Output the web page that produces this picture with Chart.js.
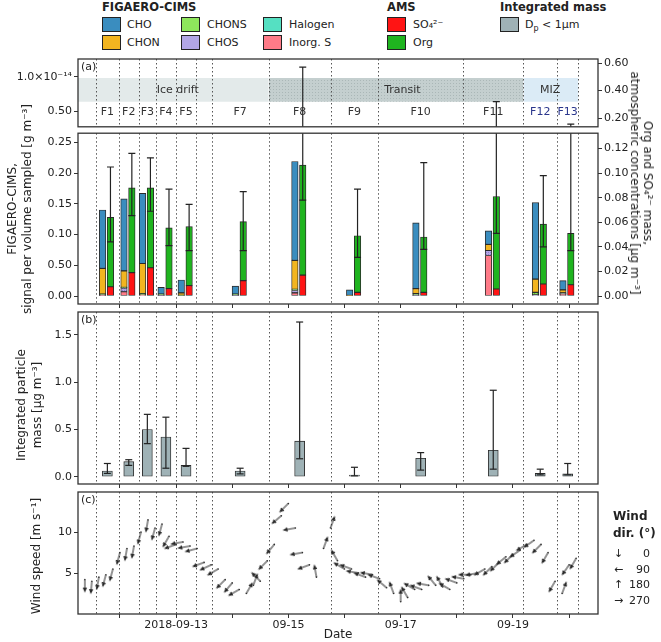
<!DOCTYPE html>
<html>
<head>
<meta charset="utf-8">
<script src="https://cdn.jsdelivr.net/npm/chart.js@4.4.1/dist/chart.umd.min.js"></script>
<style>
  body { margin: 0; width: 661px; height: 642px; position: relative; background: #fff;
         font-family: "DejaVu Sans", sans-serif; color: #222; overflow: hidden; }
  canvas { position: absolute; left: 0; }
  .t { position: absolute; white-space: nowrap; font-size: 11px; line-height: 15px; }
  .hd { font-weight: bold; font-size: 11.5px; }
  .sw { position: absolute; width: 19px; height: 15px; border: 1px solid #222; box-sizing: border-box; }
  .vt { position: absolute; font-size: 12px; line-height: 16px; text-align: center; white-space: nowrap;
        transform: translate(-50%, -50%) rotate(-90deg); }
  .vr { transform: translate(-50%, -50%) rotate(90deg); line-height: 13px; }
</style>
</head>
<body>
<canvas id="a1" width="661" height="82" style="top:50px"></canvas>
<canvas id="a2" width="661" height="182" style="top:128px"></canvas>
<canvas id="pb" width="661" height="184" style="top:306px"></canvas>
<canvas id="pc" width="661" height="156" style="top:486px"></canvas>

<!-- legend -->
<div class="t hd" style="left:102px;top:0px">FIGAERO-CIMS</div>
<div class="sw" style="left:102px;top:17px;background:#3a8dbf"></div><div class="t" style="left:127px;top:17px">CHO</div>
<div class="sw" style="left:102px;top:35px;background:#f2b520"></div><div class="t" style="left:127px;top:35px">CHON</div>
<div class="sw" style="left:181px;top:17px;background:#8ee65c"></div><div class="t" style="left:207px;top:17px">CHONS</div>
<div class="sw" style="left:181px;top:35px;background:#b2a6e6"></div><div class="t" style="left:207px;top:35px">CHOS</div>
<div class="sw" style="left:263px;top:17px;background:#55e0c2"></div><div class="t" style="left:289px;top:17px">Halogen</div>
<div class="sw" style="left:263px;top:35px;background:#ff7b88"></div><div class="t" style="left:289px;top:35px">Inorg. S</div>
<div class="t hd" style="left:387px;top:0px">AMS</div>
<div class="sw" style="left:387px;top:17px;background:#ff1414"></div><div class="t" style="left:413px;top:17px">SO₄²⁻</div>
<div class="sw" style="left:387px;top:35px;background:#1fb41f"></div><div class="t" style="left:413px;top:35px">Org</div>
<div class="t hd" style="left:500px;top:0px">Integrated mass</div>
<div class="sw" style="left:500px;top:17px;background:#9fb2b6"></div><div class="t" style="left:525px;top:17px">D<sub style="font-size:8px">p</sub> &lt; 1μm</div>

<!-- axis titles -->
<div class="vt" style="left:20px;top:209px;line-height:15px">FIGAERO-CIMS,<br>signal per volume sampled [g m⁻³]</div>
<div class="vt vr" style="left:641px;top:183px">Org and SO₄²⁻ mass,<br>atmospheric concentrations [μg m⁻³]</div>
<div class="vt" style="left:29px;top:405px">Integrated particle<br>mass [μg m⁻³]</div>
<div class="vt" style="left:36px;top:556px">Wind speed [m s⁻¹]</div>

<!-- wind legend -->
<div class="t hd" style="left:613px;top:509px;font-size:12px">Wind</div>
<div class="t hd" style="left:613px;top:526px;font-size:12px">dir. (°)</div>
<div class="t" style="left:614px;top:546px">↓</div><div class="t" style="left:630px;top:546px;width:20px;text-align:right">0</div>
<div class="t" style="left:614px;top:562px">←</div><div class="t" style="left:630px;top:562px;width:20px;text-align:right">90</div>
<div class="t" style="left:614px;top:577px">↑</div><div class="t" style="left:626px;top:577px;width:24px;text-align:right">180</div>
<div class="t" style="left:614px;top:593px">→</div><div class="t" style="left:626px;top:593px;width:24px;text-align:right">270</div>

<script>
"use strict";

// ---- time axis (day of September 2018) ----
const DAY_MIN = 11.253;
const DAY_MAX = 20.514;
const tickDays = [12, 13, 14, 15, 16, 17, 18, 19, 20];
const tickLabels = ["", "2018-09-13", "", "09-15", "", "09-17", "", "09-19", ""];

// ---- filter samples (F6 has no data) ----
const filterNames = ["F1", "F2", "F3", "F4", "F5", "F7", "F8", "F9", "F10", "F11", "F12", "F13"];
const filterStart = [11.573, 11.979, 12.335, 12.641, 12.996, 13.633, 14.648, 15.753, 16.600, 18.112, 19.185, 19.785];
const filterEnd = [11.979, 12.335, 12.641, 12.996, 13.358, 14.648, 15.753, 16.600, 18.112, 19.185, 19.785, 20.164];

// ---- cruise stages ----
const stageNames = ["Ice drift", "Transit", "MIZ"];
const stageStart = [11.253, 14.648, 19.185];
const stageEnd = [14.648, 19.185, 20.164];
const stageLabelDay = [13.03, 17.03, 19.66];

// ---- FIGAERO-CIMS signal [g m-3] ----
const cho = [0.095, 0.117, 0.114, 0.011, 0.021, 0.013, 0.161, 0.009, 0.107, 0.022, 0.1245, 0.015];
const chon = [0.042, 0.027, 0.049, 0.000, 0.004, 0.000, 0.047, 0.001, 0.008, 0.010, 0.0215, 0.005];
const chons = [0.001, 0.001, 0.002, 0.002, 0.001, 0.002, 0.002, 0.000, 0.003, 0.000, 0.004, 0.001];
const chos = [0.001, 0.006, 0.000, 0.001, 0.000, 0.001, 0.004, 0.000, 0.001, 0.008, 0.002, 0.001];
const halogen = [0.000, 0.000, 0.000, 0.000, 0.000, 0.000, 0.000, 0.000, 0.000, 0.000, 0.000, 0.000];
const inorgS = [0.001, 0.007, 0.002, 0.000, 0.000, 0.000, 0.005, 0.000, 0.000, 0.066, 0.000, 0.003];

// ---- AMS mass [ug m-3] ----
const so4 = [0.0075, 0.019, 0.023, 0.006, 0.0085, 0.0125, 0.017, 0.003, 0.003, 0.0057, 0.0098, 0.0092];
const org = [0.0565, 0.069, 0.065, 0.0495, 0.048, 0.048, 0.0895, 0.046, 0.045, 0.0753, 0.0487, 0.0418];
const orgErrLow = [0.044, 0.0655, 0.069, 0.041, 0.037, 0.037, 0.078, 0.0314, 0.038, 0.051, 0.040, 0.037];
const orgErrHigh = [0.105, 0.116, 0.1125, 0.087, 0.0745, 0.085, 0.572, 0.087, 0.1086, 0.32, 0.098, 0.156];

// ---- integrated particle mass, Dp < 1um [ug m-3] ----
const mass = [0.06, 0.16, 0.50, 0.42, 0.12, 0.06, 0.377, 0.018, 0.195, 0.28, 0.035, 0.03];
const massLow = [0.035, 0.12, 0.35, 0.09, 0.11, 0.03, 0.19, 0.01, 0.07, 0.08, 0.02, 0.02];
const massHigh = [0.14, 0.18, 0.66, 0.63, 0.30, 0.09, 1.637, 0.10, 0.255, 0.915, 0.08, 0.14];

// ---- wind ----
const windTime = [11.375, 11.5, 11.625, 11.75, 11.875, 12.0, 12.125, 12.25, 12.375, 12.5, 12.625, 12.75, 12.875,
  13.0, 13.125, 13.25, 13.375, 13.5, 13.625, 13.75, 13.875, 14.0, 14.125, 14.25, 14.375, 14.5, 14.625, 14.75, 14.875,
  15.0, 15.125, 15.25, 15.375, 15.5, 15.625, 15.75, 15.875, 16.0, 16.125, 16.25, 16.375, 16.5, 16.625, 16.75, 16.875,
  17.0, 17.125, 17.25, 17.375, 17.5, 17.625, 17.75, 17.875, 18.0, 18.125, 18.25, 18.375, 18.5, 18.625, 18.75, 18.875,
  19.0, 19.125, 19.25, 19.375, 19.5, 19.625, 19.75, 19.875, 20.0, 20.125];
const windSpeed = [4.2, 4.0, 4.5, 4.8, 5.5, 7.5, 8.0, 8.3, 10.0, 11.5, 10.5, 11.0, 9.5,
  8.5, 8.8, 8.3, 8.0, 6.3, 6.0, 5.5, 4.2, 3.8, 3.0, 2.5, 3.5, 4.0, 6.5, 8.5, 12.0,
  13.5, 10.5, 7.5, 6.0, 4.5, 8.0, 10.5, 6.5, 5.5, 5.5, 5.0, 4.5, 4.8, 4.3, 3.2, 2.5,
  1.5, 2.0, 3.0, 3.0, 3.5, 3.5, 3.3, 3.0, 3.8, 4.3, 4.8, 5.0, 5.5, 5.8, 6.3, 7.0,
  7.3, 7.8, 8.5, 9.0, 8.5, 7.5, 4.0, 2.5, 6.0, 6.8];
const windDir = [0, 5, 10, 15, 15, 15, 10, 10, 15, 10, 15, 15, 30,
  70, 80, 80, 75, 70, 65, 60, 45, 40, 60, 210, 200, 135, 45, 40, 50,
  45, 80, 80, 70, 170, 200, 200, 150, 120, 110, 100, 110, 100, 110, 130, 160,
  180, 150, 120, 110, 100, 140, 150, 120, 110, 100, 90, 80, 60, 45, 45, 50,
  45, 55, 60, 55, 45, 30, 30, 200, 35, 30];

// ---- styles ----
const FONT = { family: "'DejaVu Sans', sans-serif", size: 11 };
const INK = "#222";
const LEFT_W = 78;
const RIGHT_W = 63;
const CIMS_SHIFT = -0.085;
const AMS_SHIFT = 0.055;
const BAND_LOW = 0.318;
const BAND_HIGH = 0.492;
const FLABEL_Y = 0.245;

Chart.defaults.font.family = FONT.family;
Chart.defaults.font.size = FONT.size;
Chart.defaults.color = INK;
Chart.defaults.animation = false;
Chart.defaults.responsive = false;
Chart.defaults.plugins.legend.display = false;
Chart.defaults.plugins.tooltip.enabled = false;

const centers = filterStart.map((s, i) => (s + filterEnd[i]) / 2);
const boundaries = [...new Set(filterStart.concat(filterEnd))];

function pattern(base, dot, step) {
  const c = document.createElement("canvas");
  c.width = step; c.height = step;
  const g = c.getContext("2d");
  g.fillStyle = base; g.fillRect(0, 0, step, step);
  g.fillStyle = dot; g.fillRect(0, 0, 1, 1);
  return g.createPattern(c, "repeat");
}

// dotted filter boundaries
function drawLines(chart) {
  const { ctx, chartArea: a, scales } = chart;
  ctx.save();
  ctx.strokeStyle = "#555";
  ctx.lineWidth = 1;
  ctx.setLineDash([1.5, 2.5]);
  boundaries.forEach((d) => {
    const x = Math.round(scales.x.getPixelForValue(d)) + 0.5;
    ctx.beginPath();
    ctx.moveTo(x, a.top);
    ctx.lineTo(x, a.bottom);
    ctx.stroke();
  });
  ctx.restore();
}

// frame round the plot area + panel tag
const framePlugin = {
  id: "frame",
  beforeDatasetsDraw(chart, args, opts) {
    if (!opts.linesOnTop) drawLines(chart);
  },
  afterDatasetsDraw(chart, args, opts) {
    if (opts.linesOnTop) drawLines(chart);
    const { ctx, chartArea: a } = chart;
    ctx.save();
    ctx.font = "11px 'DejaVu Sans'";
    ctx.fillStyle = INK;
    ctx.textBaseline = "middle";
    ctx.fillText(opts.tag, a.left + 3, a.top + 8);
    ctx.strokeStyle = "#333";
    ctx.lineWidth = 1.3;
    ctx.strokeRect(a.left, a.top, a.right - a.left, a.bottom - a.top);
    ctx.restore();
  },
};
Chart.register(framePlugin);

// stage names and filter names in the top strip
const stageText = {
  id: "stageText",
  afterDatasetsDraw(chart) {
    const { ctx, scales } = chart;
    ctx.save();
    ctx.font = "11px 'DejaVu Sans'";
    ctx.textAlign = "center";
    ctx.textBaseline = "middle";
    const yMid = scales.yR.getPixelForValue((BAND_LOW + BAND_HIGH) / 2);
    stageNames.forEach((n, i) => {
      ctx.fillStyle = "#333";
      ctx.fillText(n, scales.x.getPixelForValue(stageLabelDay[i]), yMid);
    });
    const yF = scales.yR.getPixelForValue(FLABEL_Y);
    filterNames.forEach((n, i) => {
      ctx.fillStyle = i >= 10 ? "#2a368c" : "#333";
      ctx.fillText(n, scales.x.getPixelForValue(centers[i]), yF);
    });
    ctx.restore();
  },
};

function xAxis(display, labels, height) {
  return {
    type: "linear", min: DAY_MIN, max: DAY_MAX, display, offset: false,
    afterBuildTicks: (s) => { s.ticks = tickDays.map((v) => ({ value: v })); },
    afterFit: (s) => { s.height = height; s.paddingLeft = 0; s.paddingRight = 0; },
    grid: { drawOnChartArea: false, tickLength: 4, color: "#333", offset: false },
    border: { display: false },
    ticks: { display: labels, autoSkip: false, maxRotation: 0, padding: 1, font: FONT, color: INK,
             callback: (v, i) => tickLabels[i] },
  };
}

function yAxis(position, min, max, values, labels, width, extra) {
  return Object.assign({
    type: "linear", position, min, max,
    afterBuildTicks: (s) => { s.ticks = values.map((v) => ({ value: v })); },
    afterFit: (s) => { s.width = width; s.paddingTop = 0; s.paddingBottom = 0; },
    grid: { drawOnChartArea: false, tickLength: 4, color: "#333" },
    border: { display: false },
    ticks: { autoSkip: false, padding: 2, font: FONT, color: INK, callback: (v, i) => labels[i] },
  }, extra || {});
}

function whiskers(xs, lows, highs, axis) {
  const pts = [];
  xs.forEach((x, i) => {
    pts.push({ x, y: lows[i] }, { x, y: highs[i] }, { x, y: null });
  });
  return { type: "line", data: pts, yAxisID: axis, borderColor: INK, borderWidth: 1.2,
           pointRadius: 0, spanGaps: false, order: -1 };
}

function caps(xs, lows, highs, axis) {
  const pts = [];
  xs.forEach((x, i) => { pts.push({ x, y: lows[i] }, { x, y: highs[i] }); });
  return { type: "scatter", data: pts, yAxisID: axis, pointStyle: "line", pointRadius: 3.5,
           borderColor: INK, borderWidth: 1.2, order: -2 };
}

const amsX = centers.map((c) => c + AMS_SHIFT);
const cimsX = centers.map((c) => c + CIMS_SHIFT);

// ---- (a) upper strip ----
const stageColors = ["#e3eaea", pattern("#c4cfcf", "#aab7b7", 3), "#dbebf6"];
new Chart(document.getElementById("a1"), {
  type: "line",
  data: {
    datasets: stageNames.map((n, i) => ({
      label: n,
      data: [{ x: stageStart[i], y: BAND_HIGH }, { x: stageEnd[i], y: BAND_HIGH }],
      yAxisID: "yR", fill: { value: BAND_LOW }, backgroundColor: stageColors[i],
      borderColor: "rgba(0,0,0,0)", borderWidth: 0, pointRadius: 0, order: 5,
    })).concat([whiskers(amsX, orgErrLow, orgErrHigh, "yR"), caps(amsX, orgErrLow, orgErrHigh, "yR")]),
  },
  options: {
    layout: { padding: { top: 9, bottom: 5, left: 0, right: 0 } },
    scales: {
      x: xAxis(false, false, 0),
      yL: yAxis("left", 0.272, 1.262, [0.5, 1.0], ["0.50", "1.0×10⁻¹⁴"], LEFT_W),
      yR: yAxis("right", 0.136, 0.631, [0.2, 0.4, 0.6], ["0.20", "0.40", "0.60"], RIGHT_W),
    },
    plugins: { frame: { linesOnTop: true, tag: "(a)" } },
  },
  plugins: [stageText],
});

// ---- (a) stacked bars ----
const cimsSeries = [
  ["Inorg. S", inorgS, "#ff7b88"],
  ["CHOS", chos, pattern("#b2a6e6", "#8e80cc", 2)],
  ["Halogen", halogen, pattern("#55e0c2", "#2fb896", 3)],
  ["CHONS", chons, pattern("#8ee65c", "#5cb83a", 3)],
  ["CHON", chon, "#f2b520"],
  ["CHO", cho, "#3a8dbf"],
];
const amsSeries = [
  ["SO4", so4, "#ff1414"],
  ["Org", org, "#1fb41f"],
];
const barStyle = { type: "bar", borderColor: "#2a2a2a", borderWidth: 0.9, borderSkipped: false,
                   barThickness: 6.5, grouped: false };

new Chart(document.getElementById("a2"), {
  type: "bar",
  data: {
    datasets: cimsSeries.map(([label, vals, color]) => Object.assign({}, barStyle, {
      label, data: vals.map((v, i) => ({ x: cimsX[i], y: v })),
      backgroundColor: color, stack: "cims", yAxisID: "yL",
    })).concat(amsSeries.map(([label, vals, color]) => Object.assign({}, barStyle, {
      label, data: vals.map((v, i) => ({ x: amsX[i], y: v })),
      backgroundColor: color, stack: "ams", yAxisID: "yR",
    }))).concat([whiskers(amsX, orgErrLow, orgErrHigh, "yE"), caps(amsX, orgErrLow, orgErrHigh, "yE")]),
  },
  options: {
    layout: { padding: { top: 5, bottom: 0, left: 0, right: 0 } },
    scales: {
      x: xAxis(true, false, 6),
      yL: yAxis("left", -0.013, 0.265, [0, 0.05, 0.10, 0.15, 0.20, 0.25],
        ["0.00", "0.50", "0.10", "0.15", "0.20", "0.25"], LEFT_W, { stacked: true }),
      yR: yAxis("right", -0.0065, 0.1325, [0, 0.02, 0.04, 0.06, 0.08, 0.10, 0.12],
        ["0.00", "0.02", "0.04", "0.06", "0.08", "0.10", "0.12"], RIGHT_W, { stacked: true }),
      yE: { type: "linear", display: false, min: -0.0065, max: 0.1325 },
    },
    plugins: { frame: { tag: "" } },
  },
});

// ---- (b) integrated mass ----
new Chart(document.getElementById("pb"), {
  type: "bar",
  data: {
    datasets: [
      Object.assign({}, barStyle, {
        label: "Dp < 1um", data: mass.map((v, i) => ({ x: centers[i], y: v })),
        backgroundColor: "#9fb2b6", barThickness: 10, yAxisID: "y",
      }),
      whiskers(centers, massLow, massHigh, "y"),
      caps(centers, massLow, massHigh, "y"),
    ],
  },
  options: {
    layout: { padding: { top: 6, bottom: 0, left: 0, right: RIGHT_W } },
    scales: {
      x: xAxis(true, false, 6),
      y: yAxis("left", -0.077, 1.743, [0, 0.5, 1.0, 1.5], ["0.0", "0.5", "1.0", "1.5"], LEFT_W),
    },
    plugins: { frame: { tag: "(b)" } },
  },
});

// ---- (c) wind ----
function arrowImage(len) {
  const size = 2 * len + 6;
  const c = document.createElement("canvas");
  c.width = size; c.height = size;
  const g = c.getContext("2d");
  const m = size / 2;
  g.strokeStyle = "#2a2a2a"; g.fillStyle = "#2a2a2a"; g.lineWidth = 1;
  g.beginPath(); g.moveTo(m, m); g.lineTo(m, m + len - 3); g.stroke();
  g.beginPath(); g.moveTo(m, m + len); g.lineTo(m - 2.2, m + len - 5); g.lineTo(m + 2.2, m + len - 5);
  g.closePath(); g.fill();
  return c;
}
const arrow = arrowImage(13);
const windPoints = windTime.map((t, i) => ({ x: t, y: windSpeed[i] }));

new Chart(document.getElementById("pc"), {
  type: "scatter",
  data: {
    datasets: [
      { label: "wind", data: windPoints, pointStyle: arrow, pointRadius: 3,
        rotation: (c) => windDir[c.dataIndex] },
      { label: "tail", data: windPoints, pointStyle: "circle", pointRadius: 0.8,
        backgroundColor: "#333", borderWidth: 0 },
    ],
  },
  options: {
    layout: { padding: { top: 6, bottom: 0, left: 0, right: RIGHT_W } },
    scales: {
      x: Object.assign(xAxis(true, true, 28), {
        title: { display: true, text: "Date", padding: 0, font: { size: 12 }, color: INK },
      }),
      y: yAxis("left", 0, 14.9, [5, 10], ["5", "10"], LEFT_W),
    },
    plugins: { frame: { tag: "(c)" } },
  },
});
</script>
</body>
</html>
